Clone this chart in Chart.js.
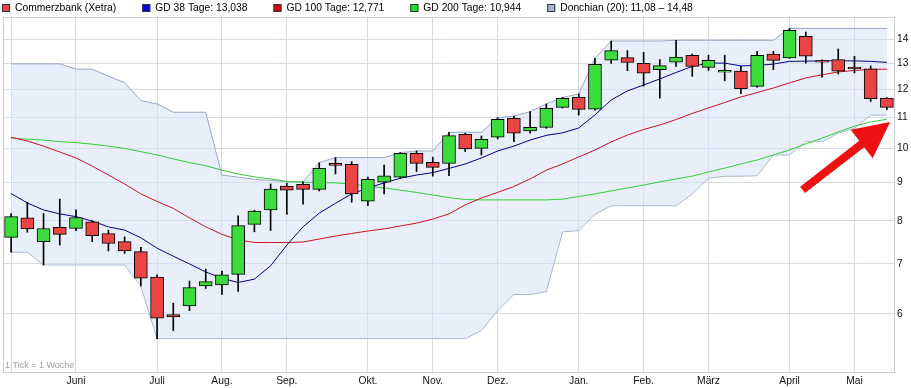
<!DOCTYPE html>
<html>
<head>
<meta charset="utf-8">
<script src="https://cdn.jsdelivr.net/npm/chart.js@4.4.1/dist/chart.umd.min.js"></script>
<style>
    html, body { margin: 0; padding: 0; background: #fff; }
</style>
</head>
<body>
<canvas id="candleChart" width="911" height="388"></canvas>
<script>
// Wochenkerzen, 55 Wochen
const monthStarts = [0, 4, 9, 13, 17, 22, 26, 30, 35, 39, 43, 48, 52];
const monthNames = ['', 'Juni', 'Juli', 'Aug.', 'Sep.', 'Okt.', 'Nov.', 'Dez.', 'Jan.', 'Feb.', 'März', 'April', 'Mai'];
const yTicks = [6, 7, 8, 9, 10, 11, 12, 13, 14];

const openPrices = [7.60, 8.07, 7.50, 7.84, 7.81, 7.97, 7.69, 7.50, 7.27, 6.72,
    5.99, 6.15, 6.54, 6.56, 6.78, 7.91, 8.27, 8.90, 8.95, 8.81,
    9.55, 9.52, 8.50, 9.01, 9.15, 9.85, 9.58, 9.55, 10.44, 10.00,
    10.35, 10.97, 10.55, 10.67, 11.35, 11.71, 11.29, 13.13, 13.23, 13.00,
    12.75, 13.05, 13.33, 12.84, 12.65, 12.69, 12.11, 13.38, 13.22, 14.13,
    13.11, 13.15, 12.84, 12.78, 11.68];
const highPrices = [8.18, 8.47, 8.18, 8.55, 8.27, 8.00, 7.77, 7.61, 7.37, 6.77,
    6.20, 6.64, 6.89, 6.85, 8.12, 8.26, 8.96, 8.98, 9.02, 9.57,
    9.72, 9.60, 9.15, 9.50, 9.87, 9.92, 9.73, 10.51, 10.48, 10.39,
    10.99, 11.05, 11.20, 11.47, 11.70, 11.83, 13.20, 13.93, 13.52, 13.45,
    13.15, 13.96, 13.38, 13.33, 13.33, 12.88, 13.49, 13.49, 14.48, 14.32,
    13.14, 13.59, 13.29, 12.90, 11.70];
const lowPrices = [7.26, 7.72, 6.98, 7.42, 7.76, 7.50, 7.29, 7.23, 6.54, 5.56,
    5.70, 6.06, 6.49, 6.37, 6.43, 7.73, 7.76, 8.16, 8.42, 8.77,
    9.24, 8.47, 8.38, 8.69, 9.12, 9.31, 9.18, 9.19, 9.90, 9.80,
    10.30, 10.21, 10.48, 10.64, 11.33, 11.08, 11.25, 13.00, 12.71, 12.12,
    11.68, 12.88, 12.49, 12.72, 12.32, 11.84, 12.08, 12.75, 13.20, 13.01,
    12.46, 12.58, 12.62, 11.56, 11.27];
const closePrices = [8.10, 7.80, 7.81, 7.67, 8.08, 7.64, 7.46, 7.29, 6.70, 5.92,
    5.945, 6.51, 6.63, 6.77, 7.88, 8.24, 8.82, 8.79, 8.81, 9.40,
    9.49, 8.69, 9.09, 9.19, 9.85, 9.55, 9.43, 10.40, 9.98, 10.28,
    10.94, 10.48, 10.67, 11.32, 11.67, 11.28, 12.96, 13.52, 13.04, 12.61,
    12.91, 13.25, 12.88, 13.12, 12.72, 12.02, 13.33, 13.12, 14.40, 13.29,
    13.05, 12.69, 12.79, 11.66, 11.35];

const gd38 = [8.70, 8.45, 8.27, 8.17, 8.10, 7.99, 7.85, 7.77, 7.59, 7.35,
    7.17, 7.00, 6.83, 6.70, 6.61, 6.68, 6.96, 7.42, 7.85, 8.19,
    8.44, 8.69, 8.85, 8.99, 9.12, 9.21, 9.28, 9.40, 9.53, 9.71,
    9.92, 10.07, 10.26, 10.41, 10.49, 10.65, 11.09, 11.61, 11.94, 12.16,
    12.39, 12.64, 12.88, 13.01, 13.01, 12.90, 12.92, 12.97, 13.08, 13.09,
    13.10, 13.10, 13.10, 13.08, 13.04];
const gd100 = [10.35, 10.23, 10.07, 9.89, 9.71, 9.47, 9.21, 8.96, 8.69, 8.49,
    8.31, 8.07, 7.85, 7.67, 7.54, 7.48, 7.48, 7.48, 7.49, 7.56,
    7.63, 7.69, 7.75, 7.80, 7.87, 7.94, 8.04, 8.17, 8.40, 8.58,
    8.73, 8.89, 9.10, 9.35, 9.53, 9.74, 9.95, 10.20, 10.42, 10.60,
    10.75, 10.93, 11.14, 11.33, 11.52, 11.72, 11.88, 12.05, 12.24, 12.43,
    12.55, 12.66, 12.72, 12.76, 12.77];
const gd200 = [10.32, 10.29, 10.26, 10.21, 10.18, 10.13, 10.07, 10.00, 9.90, 9.80,
    9.68, 9.57, 9.48, 9.35, 9.24, 9.16, 9.10, 9.03, 9.01, 9.00,
    8.99, 8.96, 8.90, 8.85, 8.79, 8.73, 8.66, 8.59, 8.54, 8.53,
    8.53, 8.53, 8.53, 8.53, 8.55, 8.62, 8.69, 8.77, 8.85, 8.93,
    9.02, 9.10, 9.18, 9.30, 9.41, 9.53, 9.65, 9.80, 9.95, 10.14,
    10.32, 10.52, 10.71, 10.85, 10.94];
const donchianHigh = [12.98, 12.98, 12.98, 12.98, 12.77, 12.77, 12.50, 12.25, 11.59, 11.47,
    11.18, 11.18, 11.18, 9.21, 9.15, 9.09, 9.06, 9.02, 9.02, 9.57,
    9.72, 9.72, 9.72, 9.72, 9.87, 9.92, 9.92, 10.51, 10.51, 10.51,
    10.99, 11.05, 11.20, 11.47, 11.70, 11.83, 13.20, 13.93, 13.93, 13.93,
    13.93, 13.96, 13.96, 13.96, 13.96, 13.96, 13.96, 13.96, 14.48, 14.48,
    14.48, 14.48, 14.48, 14.48, 14.48];
const donchianLow = [7.26, 7.26, 6.98, 6.98, 6.98, 6.98, 6.98, 6.98, 6.54, 5.56,
    5.56, 5.56, 5.56, 5.56, 5.56, 5.56, 5.56, 5.56, 5.56, 5.56,
    5.56, 5.56, 5.56, 5.56, 5.56, 5.56, 5.56, 5.56, 5.56, 5.70,
    6.06, 6.37, 6.37, 6.43, 7.73, 7.76, 8.16, 8.38, 8.38, 8.38,
    8.38, 8.38, 8.69, 9.12, 9.18, 9.18, 9.19, 9.80, 9.80, 10.21,
    10.21, 10.48, 10.64, 11.08, 11.08];

const legendItems = [
    { label: 'Commerzbank (Xetra)', color: '#e84444' },
    { label: 'GD 38 Tage: 13,038', color: '#0000cc' },
    { label: 'GD 100 Tage: 12,771', color: '#dd0000' },
    { label: 'GD 200 Tage: 10,944', color: '#22dd22' },
    { label: 'Donchian (20): 11,08 \u2013 14,48', color: '#a8b4d4' }
];

// Pfeil auf das Ende der GD 200 (Woche, Kurs)
const arrowFrom = { week: 48.8, value: 8.8 };
const arrowTo = { week: 54.2, value: 10.85 };

const FONT = '"Liberation Sans", Arial, sans-serif';
const GRID = '#d6dae2';
const UP = '#3ddc3d';
const DOWN = '#ea4444';

const weeks = openPrices.map((_, i) => {
    const m = monthStarts.indexOf(i);
    return m >= 0 ? monthNames[m] : '';
});

const bodies = openPrices.map((o, i) => [o, closePrices[i]]);
const wicks = lowPrices.map((l, i) => [l, highPrices[i]]);
const bodyColors = openPrices.map((o, i) => closePrices[i] >= o ? UP : DOWN);

const frameAndLegend = {
    id: 'frameAndLegend',
    afterDatasetsDraw(chart) {
        const { ctx, chartArea } = chart;
        ctx.save();
        ctx.strokeStyle = '#c8ccd6';
        ctx.lineWidth = 1;
        ctx.strokeRect(chartArea.left + 0.5, chartArea.top + 0.5,
            chartArea.right - chartArea.left - 1, chartArea.bottom - chartArea.top - 1);

        // roter Pfeil
        const xs = chart.scales.x, ys = chart.scales.y;
        const x0 = xs.getPixelForValue(arrowFrom.week), y0 = ys.getPixelForValue(arrowFrom.value);
        const x1 = xs.getPixelForValue(arrowTo.week), y1 = ys.getPixelForValue(arrowTo.value);
        const len = Math.hypot(x1 - x0, y1 - y0);
        const ux = (x1 - x0) / len, uy = (y1 - y0) / len;
        const nx = -uy, ny = ux;
        const headLen = 36, headW = 18, shaftW = 4;
        const bx = x1 - ux * headLen, by = y1 - uy * headLen;
        ctx.fillStyle = '#ee1111';
        ctx.beginPath();
        ctx.moveTo(x0 + nx * shaftW, y0 + ny * shaftW);
        ctx.lineTo(bx + nx * shaftW, by + ny * shaftW);
        ctx.lineTo(bx + nx * headW, by + ny * headW);
        ctx.lineTo(x1, y1);
        ctx.lineTo(bx - nx * headW, by - ny * headW);
        ctx.lineTo(bx - nx * shaftW, by - ny * shaftW);
        ctx.lineTo(x0 - nx * shaftW, y0 - ny * shaftW);
        ctx.closePath();
        ctx.fill();

        // Legende oben
        ctx.font = '10.3px ' + FONT;
        ctx.textBaseline = 'middle';
        let x = 2;
        legendItems.forEach(item => {
            ctx.fillStyle = item.color;
            ctx.fillRect(x, 4, 8, 8);
            ctx.strokeStyle = '#333';
            ctx.strokeRect(x + 0.5, 4.5, 7, 7);
            ctx.fillStyle = '#000';
            ctx.textAlign = 'left';
            ctx.fillText(item.label, x + 13, 8.5);
            x += 13 + ctx.measureText(item.label).width + 26;
        });

        ctx.font = '9px ' + FONT;
        ctx.fillStyle = '#a0a0a0';
        ctx.fillText('1 Tick = 1 Woche', chartArea.left + 2, chartArea.bottom - 7);
        ctx.restore();
    }
};

document.addEventListener('DOMContentLoaded', function() {
    const ctx = document.getElementById('candleChart').getContext('2d');
    new Chart(ctx, {
        type: 'bar',
        data: {
            labels: weeks,
            datasets: [
                {
                    label: 'Body',
                    data: bodies,
                    backgroundColor: bodyColors,
                    borderColor: '#000',
                    borderWidth: 1,
                    borderSkipped: false,
                    barThickness: 13,
                    grouped: false,
                    order: 0
                },
                {
                    label: 'Docht',
                    data: wicks,
                    backgroundColor: '#000',
                    borderWidth: 0,
                    barThickness: 1,
                    grouped: false,
                    order: 1
                },
                {
                    type: 'line',
                    label: 'GD 38',
                    data: gd38,
                    borderColor: '#00008c',
                    borderWidth: 1,
                    pointRadius: 0,
                    fill: false,
                    order: 2
                },
                {
                    type: 'line',
                    label: 'GD 100',
                    data: gd100,
                    borderColor: '#cc1020',
                    borderWidth: 1,
                    pointRadius: 0,
                    fill: false,
                    order: 3
                },
                {
                    type: 'line',
                    label: 'GD 200',
                    data: gd200,
                    borderColor: '#33cc33',
                    borderWidth: 1,
                    pointRadius: 0,
                    fill: false,
                    order: 4
                },
                {
                    type: 'line',
                    label: 'Donchian unten',
                    data: donchianLow,
                    borderColor: '#98a6c4',
                    borderWidth: 1,
                    pointRadius: 0,
                    fill: false,
                    order: 6
                },
                {
                    type: 'line',
                    label: 'Donchian oben',
                    data: donchianHigh,
                    borderColor: '#98a6c4',
                    backgroundColor: 'rgba(214, 226, 246, 0.55)',
                    borderWidth: 1,
                    pointRadius: 0,
                    fill: '-1',
                    order: 5
                }
            ]
        },
        options: {
            responsive: false,
            animation: false,
            layout: { padding: { top: 17, left: 3, right: 0, bottom: 0 } },
            plugins: {
                legend: { display: false },
                tooltip: { enabled: false }
            },
            scales: {
                x: {
                    offset: true,
                    grid: {
                        offset: false,
                        drawTicks: false,
                        color: c => monthStarts.includes(c.index) ? GRID : 'rgba(0,0,0,0)'
                    },
                    border: { display: false },
                    ticks: {
                        autoSkip: false,
                        maxRotation: 0,
                        padding: 2,
                        color: '#111',
                        font: { family: FONT, size: 10.3 },
                        callback: (v, i) => weeks[i]
                    },
                    afterFit: s => { s.height = 15; }
                },
                y: {
                    type: 'logarithmic',
                    position: 'right',
                    min: 5,
                    max: 15,
                    afterBuildTicks: s => { s.ticks = yTicks.map(v => ({ value: v })); },
                    grid: { color: GRID, drawTicks: false },
                    border: { display: false },
                    ticks: {
                        padding: 2,
                        color: '#111',
                        font: { family: FONT, size: 10.3 },
                        callback: v => String(v)
                    },
                    afterFit: s => { s.width = 16; }
                }
            }
        },
        plugins: [frameAndLegend]
    });
});
</script>
</body>
</html>
